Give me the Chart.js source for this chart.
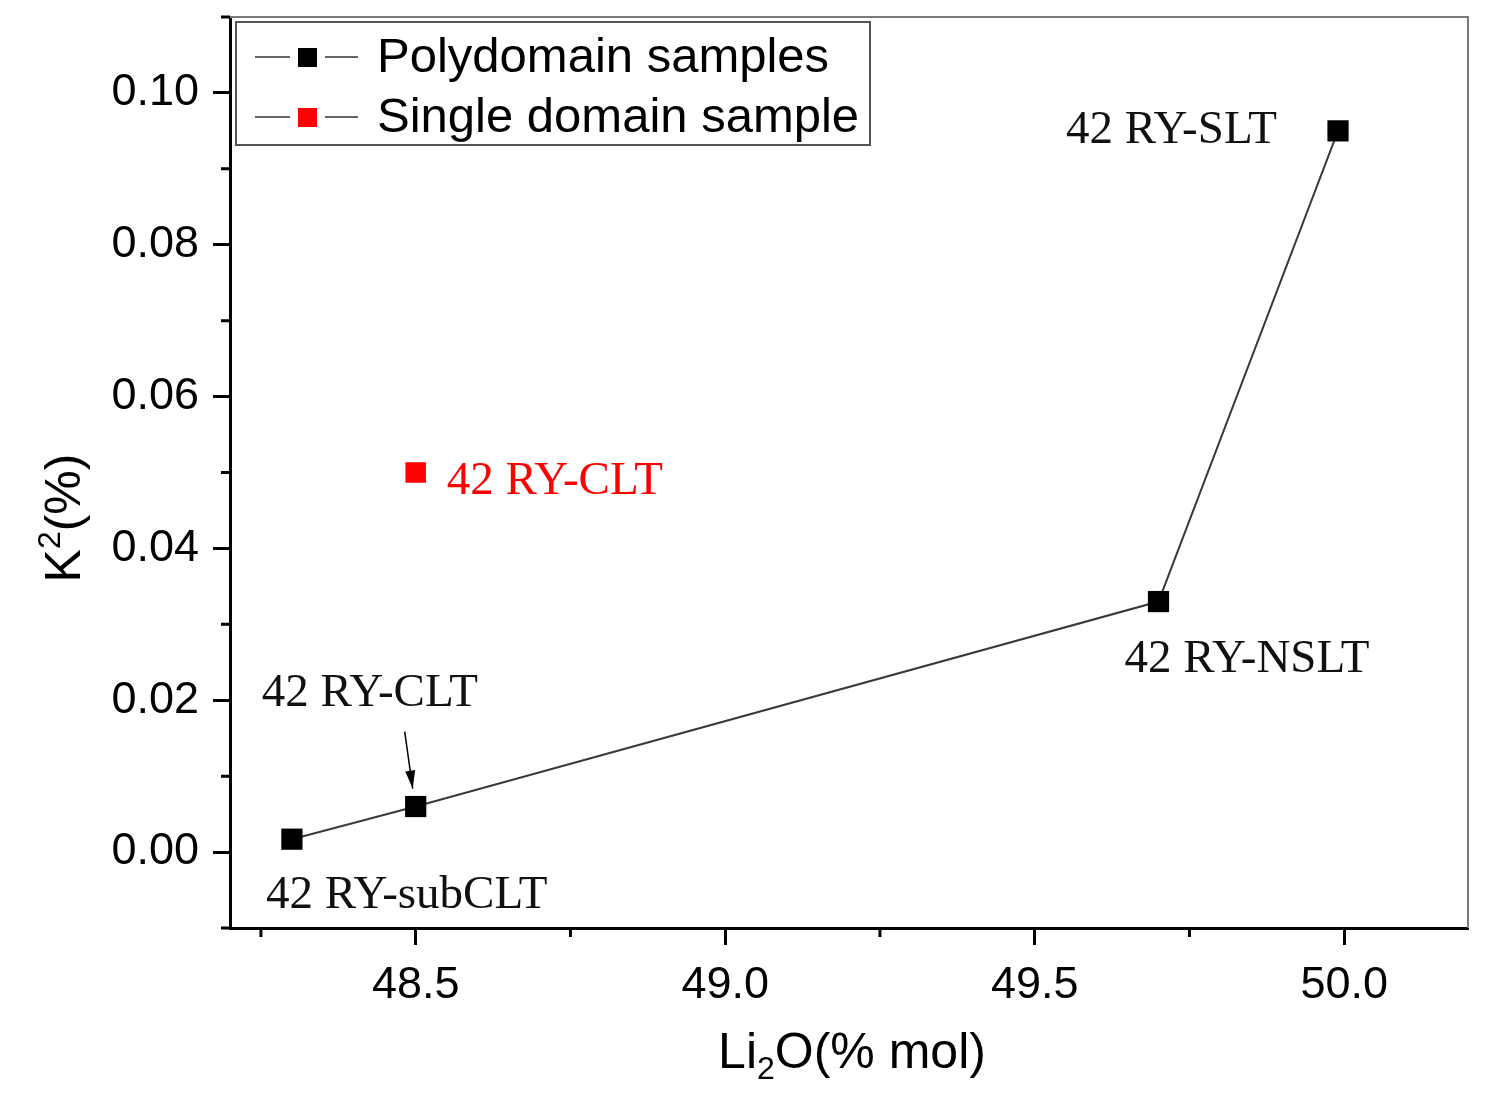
<!DOCTYPE html>
<html>
<head>
<meta charset="utf-8">
<script src="https://cdn.jsdelivr.net/npm/chart.js@4/dist/chart.umd.min.js"></script>
<style>
html,body{margin:0;padding:0;background:#fff;}
#wrap{width:1494px;height:1105px;}
</style>
</head>
<body>
<div id="wrap"><canvas id="c" width="1494" height="1105"></canvas></div>
<script>
// ---- data ----
const polyX = [48.3, 48.5, 49.7, 49.99];
const polyY = [0.0017, 0.006, 0.033, 0.095];
const polyNames = ["42 RY-subCLT", "42 RY-CLT", "42 RY-NSLT", "42 RY-SLT"];
const singleX = [48.5];
const singleY = [0.050];
const singleNames = ["42 RY-CLT"];
const seriesLabels = ["Polydomain samples", "Single domain sample"];
const xMajorTicks = [48.5, 49.0, 49.5, 50.0];
const xMinorTicks = [48.25, 48.75, 49.25, 49.75];
const yMajorTicks = [0.00, 0.02, 0.04, 0.06, 0.08, 0.10];
const yMinorTicks = [-0.01, 0.01, 0.03, 0.05, 0.07, 0.09, 0.11];
const xTitle = ["Li", "2", "O(% mol)"];
const yTitle = ["K", "2", "(%)"];

// label layout (pixel offsets from the point; style only)
const polyLabelLayout = [
  {dx:-26, dy:56, align:'left'},
  {dx:-154, dy:-113, align:'left', arrow:true},
  {dx:-34, dy:58, align:'left'},
  {dx:-61, dy:0, align:'right'}
];
const singleLabelLayout = [{dx:31, dy:9, align:'left'}];

const toPts = (xs, ys) => xs.map((x,i)=>({x:x, y:ys[i]}));

const SANS = '"Liberation Sans", Arial, sans-serif';
const SERIF = '"Liberation Serif", "DejaVu Serif", serif';

const decorPlugin = {
  id: 'decor',
  afterDraw(chart) {
    const ctx = chart.ctx;
    const ca = chart.chartArea;
    const xs = chart.scales.x, ys = chart.scales.y;
    ctx.save();
    // top and right frame
    ctx.strokeStyle = '#7a7a7a';
    ctx.lineWidth = 2;
    ctx.beginPath();
    ctx.moveTo(ca.left, ca.top); ctx.lineTo(ca.right, ca.top); ctx.lineTo(ca.right, ca.bottom);
    ctx.stroke();
    // minor ticks
    ctx.strokeStyle = '#000';
    ctx.lineWidth = 3;
    ctx.beginPath();
    yMinorTicks.forEach(v => {
      const py = ys.getPixelForValue(v);
      ctx.moveTo(ca.left - 9, py); ctx.lineTo(ca.left, py);
    });
    xMinorTicks.forEach(v => {
      const px = xs.getPixelForValue(v);
      ctx.moveTo(px, ca.bottom); ctx.lineTo(px, ca.bottom + 9);
    });
    ctx.stroke();

    // point labels
    ctx.font = '47px ' + SERIF;
    ctx.textBaseline = 'middle';
    const drawLabels = (dsIndex, names, layout, color) => {
      const meta = chart.getDatasetMeta(dsIndex);
      meta.data.forEach((el, i) => {
        const L = layout[i];
        ctx.fillStyle = color;
        ctx.textAlign = L.align;
        ctx.fillText(names[i], el.x + L.dx, el.y + L.dy);
        if (L.arrow) {
          const x0 = el.x - 11, y0 = el.y - 75, x1 = el.x - 3, y1 = el.y - 18;
          ctx.strokeStyle = '#000';
          ctx.lineWidth = 1.5;
          ctx.beginPath(); ctx.moveTo(x0, y0); ctx.lineTo(x1, y1); ctx.stroke();
          const ang = Math.atan2(y1 - y0, x1 - x0);
          ctx.fillStyle = '#000';
          ctx.beginPath();
          ctx.moveTo(x1, y1);
          ctx.lineTo(x1 - 18*Math.cos(ang) + 5*Math.sin(ang), y1 - 18*Math.sin(ang) - 5*Math.cos(ang));
          ctx.lineTo(x1 - 18*Math.cos(ang) - 5*Math.sin(ang), y1 - 18*Math.sin(ang) + 5*Math.cos(ang));
          ctx.closePath(); ctx.fill();
        }
      });
    };
    drawLabels(0, polyNames, polyLabelLayout, '#111');
    drawLabels(1, singleNames, singleLabelLayout, '#ff0000');

    // legend
    const lx = 236, ly = 22, lw = 634, lh = 123;
    ctx.fillStyle = '#fff';
    ctx.fillRect(lx, ly, lw, lh);
    ctx.strokeStyle = '#555';
    ctx.lineWidth = 2;
    ctx.strokeRect(lx, ly, lw, lh);
    chart.data.datasets.forEach((ds, i) => {
      const cy = 57 + i * 60;
      ctx.strokeStyle = '#666';
      ctx.lineWidth = 2;
      ctx.beginPath();
      ctx.moveTo(255, cy); ctx.lineTo(290, cy);
      ctx.moveTo(325, cy); ctx.lineTo(358, cy);
      ctx.stroke();
      ctx.fillStyle = ds.backgroundColor;
      ctx.fillRect(298, cy - 9, 19, 19);
      ctx.fillStyle = '#000';
      ctx.font = '49px ' + SANS;
      ctx.textAlign = 'left';
      ctx.textBaseline = 'middle';
      ctx.fillText(seriesLabels[i], 377, cy + 1);
    });

    // axis titles with sub/superscript
    const drawRich = (parts, cx, cy, mode) => {
      const big = '50px ' + SANS, small = '32px ' + SANS;
      ctx.font = big; const w0 = ctx.measureText(parts[0]).width; const w2 = ctx.measureText(parts[2]).width;
      ctx.font = small; const w1 = ctx.measureText(parts[1]).width;
      let x = cx - (w0 + w1 + w2) / 2;
      ctx.fillStyle = '#000';
      ctx.textAlign = 'left';
      ctx.textBaseline = 'alphabetic';
      const base = cy + 18;
      ctx.font = big; ctx.fillText(parts[0], x, base); x += w0;
      ctx.font = small; ctx.fillText(parts[1], x, mode === 'sub' ? base + 11 : base - 20); x += w1;
      ctx.font = big; ctx.fillText(parts[2], x, base);
    };
    drawRich(xTitle, 852, 1050, 'sub');
    ctx.save();
    ctx.translate(62, 518);
    ctx.rotate(-Math.PI / 2);
    drawRich(yTitle, 0, 0, 'sup');
    ctx.restore();

    ctx.restore();
  }
};

new Chart(document.getElementById('c'), {
  type: 'scatter',
  data: {
    datasets: [
      {
        label: seriesLabels[0],
        data: toPts(polyX, polyY),
        showLine: true,
        borderColor: '#3a3a3a',
        borderWidth: 2,
        backgroundColor: '#000000',
        pointBackgroundColor: '#000000',
        pointBorderColor: '#000000',
        pointBorderWidth: 0,
        pointStyle: 'rect',
        pointRadius: 15,
        tension: 0
      },
      {
        label: seriesLabels[1],
        data: toPts(singleX, singleY),
        showLine: false,
        borderColor: '#ff0000',
        backgroundColor: '#ff0000',
        pointBackgroundColor: '#ff0000',
        pointBorderColor: '#ff0000',
        pointBorderWidth: 0,
        pointStyle: 'rect',
        pointRadius: 14.5
      }
    ]
  },
  options: {
    responsive: false,
    devicePixelRatio: 1,
    animation: false,
    layout: { padding: { left: 0, top: 17, right: 26, bottom: 0 } },
    plugins: { legend: { display: false }, tooltip: { enabled: false } },
    scales: {
      x: {
        type: 'linear',
        min: 48.2,
        max: 50.2,
        afterBuildTicks: s => { s.ticks = xMajorTicks.map(v => ({ value: v })); },
        afterFit: s => { s.height = 177; s.paddingLeft = 0; s.paddingRight = 0; },
        border: { display: true, color: '#000', width: 3 },
        grid: { drawOnChartArea: false, drawTicks: true, tickLength: 17, tickColor: '#000', tickWidth: 3 },
        ticks: {
          color: '#000',
          font: { family: SANS, size: 45 },
          padding: 14,
          maxRotation: 0,
          autoSkip: false,
          callback: v => Number(v).toFixed(1)
        }
      },
      y: {
        type: 'linear',
        min: -0.01,
        max: 0.11,
        afterBuildTicks: s => { s.ticks = yMajorTicks.map(v => ({ value: v })); },
        afterFit: s => { s.width = 230; s.paddingTop = 0; s.paddingBottom = 0; },
        border: { display: true, color: '#000', width: 3 },
        grid: { drawOnChartArea: false, drawTicks: true, tickLength: 17, tickColor: '#000', tickWidth: 3 },
        ticks: {
          color: '#000',
          font: { family: SANS, size: 45 },
          padding: 14,
          autoSkip: false,
          callback: v => Number(v).toFixed(2)
        }
      }
    }
  },
  plugins: [decorPlugin]
});
</script>
</body>
</html>
